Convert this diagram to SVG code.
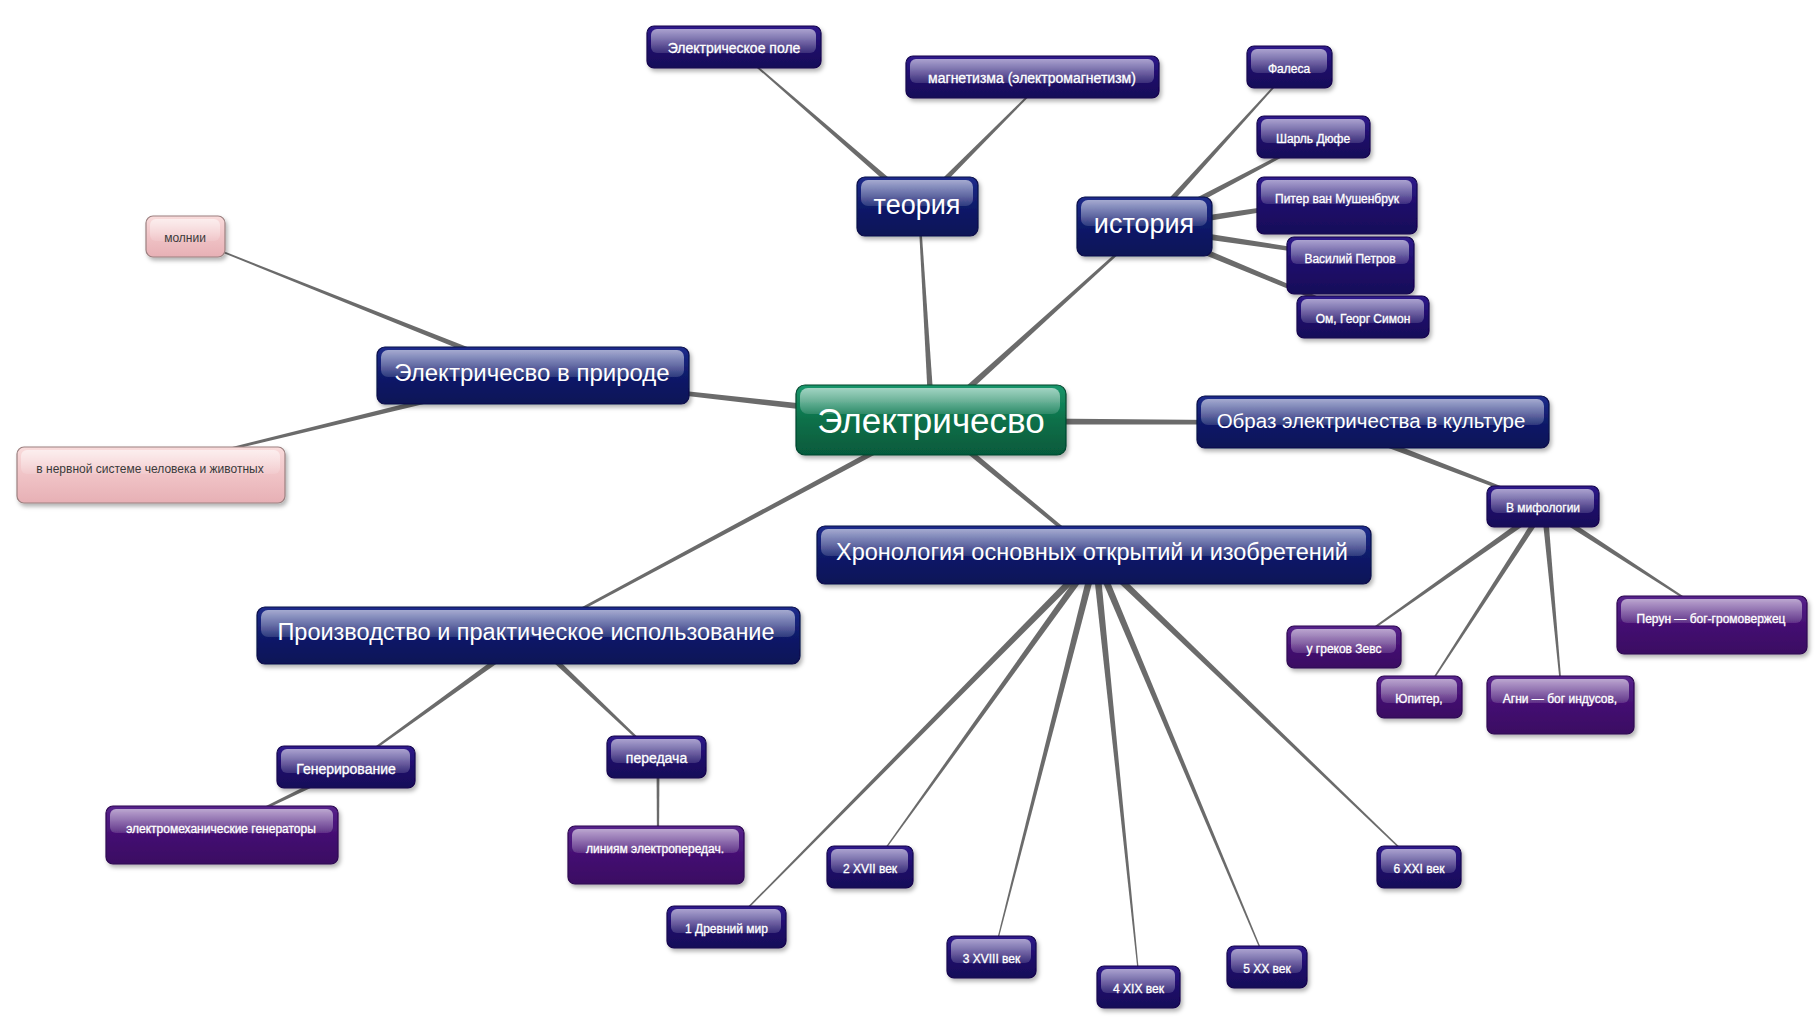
<svg xmlns="http://www.w3.org/2000/svg" width="1820" height="1019" viewBox="0 0 1820 1019">
<defs>
<linearGradient id="gN" x1="0" y1="0" x2="0" y2="1"><stop offset="0" stop-color="#1d2c8c"/><stop offset="0.5" stop-color="#0f1a6a"/><stop offset="1" stop-color="#0a1256"/></linearGradient>
<linearGradient id="gI" x1="0" y1="0" x2="0" y2="1"><stop offset="0" stop-color="#2f1b8c"/><stop offset="0.5" stop-color="#1e0d6a"/><stop offset="1" stop-color="#170858"/></linearGradient>
<linearGradient id="gP" x1="0" y1="0" x2="0" y2="1"><stop offset="0" stop-color="#57248c"/><stop offset="0.5" stop-color="#440f72"/><stop offset="1" stop-color="#3a0a62"/></linearGradient>
<linearGradient id="gG" x1="0" y1="0" x2="0" y2="1"><stop offset="0" stop-color="#18966b"/><stop offset="0.5" stop-color="#0b7049"/><stop offset="1" stop-color="#065a3c"/></linearGradient>
<linearGradient id="gK" x1="0" y1="0" x2="0" y2="1"><stop offset="0" stop-color="#f9dcdc"/><stop offset="0.5" stop-color="#f0c3c6"/><stop offset="1" stop-color="#e7b0b5"/></linearGradient>
<linearGradient id="gl" x1="0" y1="0" x2="0" y2="1"><stop offset="0" stop-color="#fff" stop-opacity="0.6"/><stop offset="1" stop-color="#fff" stop-opacity="0.14"/></linearGradient>
<linearGradient id="glK" x1="0" y1="0" x2="0" y2="1"><stop offset="0" stop-color="#fff" stop-opacity="0.55"/><stop offset="1" stop-color="#fff" stop-opacity="0.1"/></linearGradient>
<filter id="sh" x="-10%" y="-20%" width="130%" height="160%"><feDropShadow dx="2" dy="3" stdDeviation="2" flood-color="#000" flood-opacity="0.3"/></filter>
</defs>
<style>
.b{filter:url(#sh);stroke-width:1.2}
.nv{fill:url(#gN);stroke:#080f48}
.in{fill:url(#gI);stroke:#12064c}
.pu{fill:url(#gP);stroke:#2c0750}
.gr{fill:url(#gG);stroke:#04472f}
.pk{fill:url(#gK);stroke:#9c8080}
.gl{fill:url(#gl)}
.glk{fill:url(#glK)}
text{font-family:"Liberation Sans",Arial,sans-serif;text-anchor:middle;fill:#fff}
.s{font-size:12px;stroke:#fff;stroke-width:0.3}
.m{font-size:14px;stroke:#fff;stroke-width:0.3}
.d{fill:#3a3a3a;font-size:12px}
.c polygon{fill:#6b6b6b}
</style>
<rect width="1820" height="1019" fill="#fff"/>
<g id="connectors" class="c">
<polygon points="935.0,420.8 920.0,207.4 918.0,207.6 929.0,421.2"/>
<polygon points="934.3,423.6 1146.7,228.2 1145.3,226.8 929.7,418.4"/>
<polygon points="932.4,417.5 534.7,375.0 534.3,378.0 931.6,424.5"/>
<polygon points="932,424.5 1374.5,424.5 1374.5,421.5 932,417.5"/>
<polygon points="930.1,423.3 1094.5,557.2 1096.5,554.8 933.9,418.7"/>
<polygon points="930.6,418.4 529.5,635.6 530.5,637.4 933.4,423.6"/>
<polygon points="921.0,205.2 735.9,47.5 735.1,48.5 917.0,209.8"/>
<polygon points="919.1,209.6 1046.4,78.4 1045.6,77.6 914.9,205.4"/>
<polygon points="1148.2,229.5 1291.4,68.4 1290.6,67.6 1143.8,225.5"/>
<polygon points="1147.6,230.6 1315.5,138.9 1314.5,137.1 1144.4,224.4"/>
<polygon points="1146.5,231.0 1338.7,199.5 1338.3,196.5 1145.5,224.0"/>
<polygon points="1145.5,231.0 1351.8,259.5 1352.2,256.5 1146.5,224.0"/>
<polygon points="1144.7,230.7 1363.9,319.4 1365.1,316.6 1147.3,224.3"/>
<polygon points="535.6,373.7 187.2,236.9 186.8,238.1 533.4,379.3"/>
<polygon points="525.3,373.6 151.8,467.2 152.2,468.8 526.7,379.4"/>
<polygon points="528.2,634.1 347.0,767.4 348.0,768.6 531.8,638.9"/>
<polygon points="346.4,765.8 223.2,827.3 223.8,828.7 348.6,770.2"/>
<polygon points="527.9,638.7 657.4,758.6 658.6,757.4 532.1,634.3"/>
<polygon points="656.5,758 657,848 659,848 659.5,758"/>
<polygon points="1093.0,553.5 727.6,927.6 728.4,928.4 1098.0,558.5"/>
<polygon points="1092.7,554.0 871.1,867.7 871.9,868.3 1098.3,558.0"/>
<polygon points="1092.1,555.1 992.5,957.9 993.5,958.1 1098.9,556.9"/>
<polygon points="1092.0,556.4 1139.5,988.1 1140.5,987.9 1099.0,555.6"/>
<polygon points="1092.3,557.4 1268.0,968.2 1269.0,967.8 1098.7,554.6"/>
<polygon points="1093.1,558.5 1420.2,868.4 1420.8,867.6 1097.9,553.5"/>
<polygon points="1329.8,426.3 1551.6,508.6 1552.4,506.4 1332.2,419.7"/>
<polygon points="1542.8,505.0 1345.2,647.5 1345.8,648.5 1546.2,510.0"/>
<polygon points="1542.0,505.9 1420.5,697.7 1421.5,698.3 1547.0,509.1"/>
<polygon points="1541.5,507.8 1561.4,698.1 1562.6,697.9 1547.5,507.2"/>
<polygon points="1542.9,510.0 1714.7,618.5 1715.3,617.5 1546.1,505.0"/>
</g>
<g id="n-root"><rect class="b gr" x="796" y="385" width="270" height="70" rx="9"/><rect class="gl" x="800" y="388" width="260" height="26" rx="8"/><text x="931" y="433" font-size="35">Электричесво</text></g>
<g id="n-teoriya"><rect class="b nv" x="857" y="177" width="121" height="59" rx="8"/><rect class="gl" x="861" y="180" width="112" height="26" rx="7"/><text x="917" y="213.5" font-size="27">теория</text></g>
<g id="n-istoriya"><rect class="b nv" x="1077" y="197" width="135" height="59" rx="8"/><rect class="gl" x="1081" y="200" width="126" height="26" rx="7"/><text x="1144" y="233" font-size="27">история</text></g>
<g id="n-priroda"><rect class="b nv" x="377" y="347" width="312" height="57" rx="8"/><rect class="gl" x="381" y="350" width="303" height="27" rx="7"/><text x="532" y="381" font-size="24">Электричесво в природе</text></g>
<g id="n-obraz"><rect class="b nv" x="1197" y="396" width="352" height="52" rx="8"/><rect class="gl" x="1201" y="399" width="343" height="26" rx="7"/><text x="1371" y="428" font-size="20.5">Образ электричества в культуре</text></g>
<g id="n-hron"><rect class="b nv" x="817" y="526" width="554" height="58" rx="8"/><rect class="gl" x="821" y="529" width="545" height="27" rx="7"/><text x="1092" y="560" font-size="23.5">Хронология основных открытий и изобретений</text></g>
<g id="n-proizv"><rect class="b nv" x="257" y="607" width="543" height="57" rx="8"/><rect class="gl" x="261" y="610" width="534" height="27" rx="7"/><text x="526" y="640" font-size="23.5">Производство и практическое использование</text></g>
<g id="n-pole"><rect class="b in" x="647" y="26" width="174" height="42" rx="7"/><rect class="gl" x="651" y="29" width="165" height="24" rx="6"/><text class="m" x="734" y="53">Электрическое поле</text></g>
<g id="n-magn"><rect class="b in" x="906" y="56" width="253" height="42" rx="7"/><rect class="gl" x="910" y="59" width="244" height="24" rx="6"/><text class="m" x="1032" y="83">магнетизма (электромагнетизм)</text></g>
<g id="n-falesa"><rect class="b in" x="1247" y="46" width="85" height="42" rx="7"/><rect class="gl" x="1251" y="49" width="76" height="24" rx="6"/><text class="s" x="1289" y="72.5" font-size="13">Фалеса</text></g>
<g id="n-dufe"><rect class="b in" x="1257" y="116" width="113" height="42" rx="7"/><rect class="gl" x="1261" y="119" width="104" height="24" rx="6"/><text class="s" x="1313" y="142.5">Шарль Дюфе</text></g>
<g id="n-mushen"><rect class="b in" x="1257" y="177" width="160" height="57" rx="7"/><rect class="gl" x="1261" y="180" width="151" height="24" rx="6"/><text class="s" x="1337" y="202.5">Питер ван Мушенбрук</text></g>
<g id="n-petrov"><rect class="b in" x="1287" y="237" width="127" height="57" rx="7"/><rect class="gl" x="1291" y="240" width="118" height="24" rx="6"/><text class="s" x="1350" y="262.5">Василий Петров</text></g>
<g id="n-om"><rect class="b in" x="1297" y="296" width="132" height="42" rx="7"/><rect class="gl" x="1301" y="299" width="123" height="24" rx="6"/><text class="s" x="1363" y="322.5">Ом, Георг Симон</text></g>
<g id="n-mif"><rect class="b in" x="1487" y="486" width="112" height="41" rx="7"/><rect class="gl" x="1491" y="489" width="103" height="24" rx="6"/><text class="s" x="1543" y="512">В мифологии</text></g>
<g id="n-gener"><rect class="b in" x="277" y="746" width="138" height="42" rx="7"/><rect class="gl" x="281" y="749" width="129" height="24" rx="6"/><text class="m" x="346" y="773.5" font-size="14.5">Генерирование</text></g>
<g id="n-pered"><rect class="b in" x="607" y="736" width="99" height="42" rx="7"/><rect class="gl" x="611" y="739" width="90" height="24" rx="6"/><text class="m" x="656.5" y="763" font-size="14.5">передача</text></g>
<g id="n-c1"><rect class="b in" x="667" y="906" width="119" height="42" rx="7"/><rect class="gl" x="671" y="909" width="110" height="24" rx="6"/><text class="s" x="726.5" y="932.5">1 Древний мир</text></g>
<g id="n-c2"><rect class="b in" x="827" y="846" width="86" height="42" rx="7"/><rect class="gl" x="831" y="849" width="77" height="24" rx="6"/><text class="s" x="870" y="872.5">2 XVII век</text></g>
<g id="n-c3"><rect class="b in" x="947" y="936" width="89" height="42" rx="7"/><rect class="gl" x="951" y="939" width="80" height="24" rx="6"/><text class="s" x="991.5" y="962.5">3 XVIII век</text></g>
<g id="n-c4"><rect class="b in" x="1097" y="966" width="83" height="42" rx="7"/><rect class="gl" x="1101" y="969" width="74" height="24" rx="6"/><text class="s" x="1138.5" y="992.5">4 XIX век</text></g>
<g id="n-c5"><rect class="b in" x="1227" y="946" width="80" height="42" rx="7"/><rect class="gl" x="1231" y="949" width="71" height="24" rx="6"/><text class="s" x="1267" y="972.5">5 XX век</text></g>
<g id="n-c6"><rect class="b in" x="1377" y="846" width="84" height="42" rx="7"/><rect class="gl" x="1381" y="849" width="75" height="24" rx="6"/><text class="s" x="1419" y="872.5">6 XXI век</text></g>
<g id="n-elmeh"><rect class="b pu" x="106" y="806" width="232" height="58" rx="7"/><rect class="gl" x="110" y="809" width="223" height="24" rx="6"/><text class="s" x="221" y="832.5">электромеханические генераторы</text></g>
<g id="n-linii"><rect class="b pu" x="568" y="826" width="176" height="58" rx="7"/><rect class="gl" x="572" y="829" width="167" height="24" rx="6"/><text class="s" x="655" y="852.5">линиям электропередач.</text></g>
<g id="n-zevs"><rect class="b pu" x="1287" y="626" width="114" height="42" rx="7"/><rect class="gl" x="1291" y="629" width="105" height="24" rx="6"/><text class="s" x="1344" y="652.5">у греков Зевс</text></g>
<g id="n-yupiter"><rect class="b pu" x="1377" y="676" width="85" height="42" rx="7"/><rect class="gl" x="1381" y="679" width="76" height="24" rx="6"/><text class="s" x="1419" y="702.5">Юпитер,</text></g>
<g id="n-agni"><rect class="b pu" x="1487" y="676" width="147" height="58" rx="7"/><rect class="gl" x="1491" y="679" width="138" height="24" rx="6"/><text class="s" x="1560" y="702.5">Агни — бог индусов,</text></g>
<g id="n-perun"><rect class="b pu" x="1617" y="596" width="190" height="58" rx="7"/><rect class="gl" x="1621" y="599" width="181" height="24" rx="6"/><text class="s" x="1711" y="622.5">Перун — бог-громовержец</text></g>
<g id="n-molnii"><rect class="b pk" x="146" y="216" width="79" height="41" rx="7"/><rect class="glk" x="150" y="219" width="70" height="22" rx="6"/><text class="d" x="185" y="241.5">молнии</text></g>
<g id="n-nerv"><rect class="b pk" x="17" y="447" width="268" height="56" rx="7"/><rect class="glk" x="21" y="450" width="259" height="24" rx="6"/><text class="d" x="150" y="472.5" font-size="11.5">в нервной системе человека и животных</text></g>
</svg>
